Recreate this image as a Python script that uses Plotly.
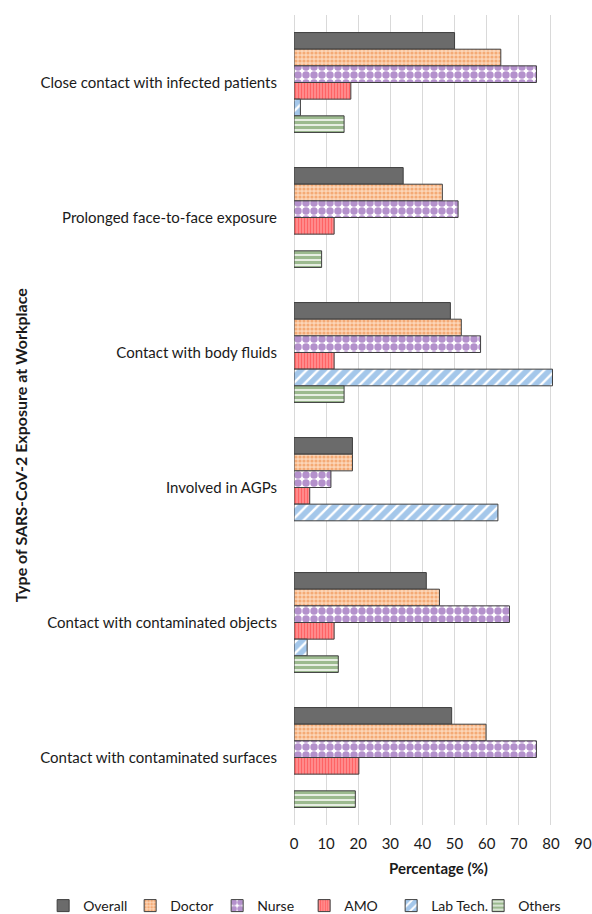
import plotly.graph_objects as go

categories = [
    "Close contact with infected patients",
    "Prolonged face-to-face exposure",
    "Contact with body fluids",
    "Involved in AGPs",
    "Contact with contaminated objects",
    "Contact with contaminated surfaces",
]
overall = [50.0, 34.0, 48.7, 18.2, 41.2, 49.1]
doctor = [64.4, 46.2, 52.1, 18.2, 45.3, 59.8]
nurse = [75.5, 51.1, 58.1, 11.5, 67.1, 75.5]
amo = [17.7, 12.5, 12.5, 4.9, 12.5, 20.2]
lab_tech = [2.0, None, 80.5, 63.5, 4.1, None]
others = [15.6, 8.6, 15.6, None, 13.8, 19.1]

series_names = ["Overall", "Doctor", "Nurse", "AMO", "Lab Tech.", "Others"]
series_values = [overall, doctor, nurse, amo, lab_tech, others]

styles = [
    dict(color="#6b6b6b", pattern=dict(shape="")),
    dict(color="#f9c7a1", pattern=dict(shape=".", fgcolor="#ed7d31", bgcolor="#fbd6b8", size=4, solidity=0.5)),
    dict(color="#ffffff", pattern=dict(shape=".", fgcolor="#6a2399", bgcolor="#ffffff", size=8, solidity=0.68)),
    dict(color="#ff7f80", pattern=dict(shape="|", fgcolor="#ff3b40", bgcolor="#ff8a8b", size=3, solidity=0.35)),
    dict(color="#ffffff", pattern=dict(shape="/", fgcolor="#4a8fd6", bgcolor="#ffffff", size=8, solidity=0.7)),
    dict(color="#ffffff", pattern=dict(shape="-", fgcolor="#3a7520", bgcolor="#ffffff", size=5, solidity=0.7)),
]

font_family = "Lato, 'Open Sans', sans-serif"

fig = go.Figure()
for name, vals, st in zip(series_names, series_values, styles):
    fig.add_trace(go.Bar(
        y=categories, x=vals, name=name, orientation="h",
        marker=dict(color=st["color"], pattern=st["pattern"],
                    line=dict(color="#3f3f3f", width=1)),
    ))

fig.update_layout(
    width=592, height=914,
    barmode="group", bargap=0.26, bargroupgap=0,
    paper_bgcolor="white", plot_bgcolor="white",
    margin=dict(l=294, r=9, t=15, b=89, autoexpand=False),
    font=dict(family=font_family, size=15, color="#1a1a1a"),
    showlegend=True,
    legend=dict(orientation="h", x=-0.868, xanchor="left", y=-0.1, yanchor="middle",
                entrywidth=42, font=dict(size=14), itemwidth=30, traceorder="normal"),
    xaxis=dict(range=[0, 90], dtick=10, showgrid=True, gridcolor="#d9d9d9", gridwidth=1,
               zeroline=True, zerolinecolor="#d9d9d9", zerolinewidth=1,
               showline=False, ticks="", ticklabelstandoff=8, automargin=False,
               title=dict(text="<b>Percentage (%)</b>", font=dict(size=15), standoff=12)),
    yaxis=dict(autorange="reversed", showgrid=False, showline=False, ticks="",
               ticklabelstandoff=16, tickfont=dict(size=15), automargin=False),
    annotations=[dict(text="<b>Type of SARS-CoV-2 Exposure at Workplace</b>",
                      xref="paper", yref="paper", x=-0.948, y=0.469,
                      xanchor="center", yanchor="middle", textangle=-90,
                      showarrow=False, font=dict(size=16, color="#1a1a1a"))],
)

fig.write_html("out.html")
